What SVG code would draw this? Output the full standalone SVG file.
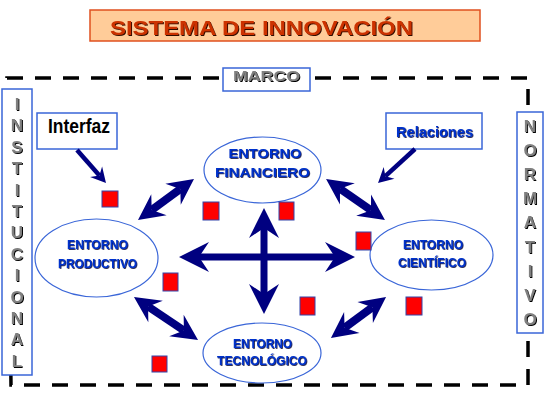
<svg xmlns="http://www.w3.org/2000/svg" width="554" height="405" viewBox="0 0 554 405">
<style>
.ent{font-family:"Liberation Sans",Arial,sans-serif;font-weight:bold;font-size:13px;fill:#0033CC;text-anchor:middle;filter:url(#shb)}
.gray{font-family:"Liberation Sans",Arial,sans-serif;font-weight:bold;font-size:17px;fill:#808080;text-anchor:middle;filter:url(#shk)}
.ell{fill:#fff;stroke:#3A66D8;stroke-width:1.2}
.box{fill:#fff;stroke:#3A66D8;stroke-width:1.5}
.sq{fill:#FF0000;stroke:#3344AA;stroke-width:1}
.big{fill:none;stroke:#000080;stroke-width:7;marker-start:url(#hb);marker-end:url(#hb)}
.mid{fill:none;stroke:#000080;stroke-width:8;marker-start:url(#hm);marker-end:url(#hm)}
.thin{fill:none;stroke:#000080;stroke-width:4.5;marker-end:url(#hs)}
</style>
<defs>
<filter id="shk" x="-20%" y="-20%" width="140%" height="140%"><feDropShadow dx="1" dy="1" stdDeviation="0" flood-color="#000"/></filter>
<filter id="shb" x="-20%" y="-20%" width="140%" height="140%"><feDropShadow dx="0.8" dy="0.8" stdDeviation="0" flood-color="#000033"/></filter>
<filter id="shr" x="-20%" y="-20%" width="140%" height="140%"><feDropShadow dx="1" dy="1" stdDeviation="0" flood-color="#330800"/></filter>
<marker id="hb" viewBox="-30 -15 30 30" markerWidth="30" markerHeight="30" refX="-20" refY="0" orient="auto-start-reverse" markerUnits="userSpaceOnUse" overflow="visible"><path d="M0,0 L-30,-15 L-20,0 L-30,15 Z" fill="#000080"/></marker>
<marker id="hm" viewBox="-26 -13 26 26" markerWidth="26" markerHeight="26" refX="-17" refY="0" orient="auto-start-reverse" markerUnits="userSpaceOnUse" overflow="visible"><path d="M0,0 L-26,-13 L-17,0 L-26,13 Z" fill="#000080"/></marker>
<marker id="hs" viewBox="-15 -8 15 16" markerWidth="15" markerHeight="16" refX="-10" refY="0" orient="auto" markerUnits="userSpaceOnUse" overflow="visible"><path d="M0,0 L-15,-8 L-10,0 L-15,8 Z" fill="#000080"/></marker>
</defs>
<rect width="554" height="405" fill="#fff"/>

<g id="title">
<rect x="90" y="10" width="390" height="31" fill="#FFCC99" stroke="#E0501F" stroke-width="1.5"/>
<text x="261.5" y="35" font-family="Liberation Sans,Arial,sans-serif" font-weight="bold" font-size="20" fill="#CC3300" text-anchor="middle" textLength="303" lengthAdjust="spacingAndGlyphs" filter="url(#shr)">SISTEMA DE INNOVACIÓN</text>
</g>

<g id="marco-border">
<path d="M7,78 H528 V385 H11 Z" fill="none" stroke="#000" stroke-width="3.5" stroke-dasharray="16 12"/>
</g>

<g id="marco">
<rect x="223" y="68" width="87" height="23" class="box"/>
<text x="266.5" y="80.5" class="gray" font-size="14" style="font-size:14px" textLength="67" lengthAdjust="spacingAndGlyphs">MARCO</text>
</g>

<g id="institucional">
<rect x="2" y="89" width="30" height="286" class="box"/>
<text class="gray"><tspan x="17" y="110">I</tspan><tspan x="17" y="131.4">N</tspan><tspan x="17" y="152.8">S</tspan><tspan x="17" y="174.2">T</tspan><tspan x="17" y="195.6">I</tspan><tspan x="17" y="217">T</tspan><tspan x="17" y="238.4">U</tspan><tspan x="17" y="259.8">C</tspan><tspan x="17" y="281.2">I</tspan><tspan x="17" y="302.6">O</tspan><tspan x="17" y="324">N</tspan><tspan x="17" y="345.4">A</tspan><tspan x="17" y="366.8">L</tspan></text>
</g>

<g id="normativo">
<rect x="517" y="112" width="26" height="221" class="box"/>
<text class="gray"><tspan x="530" y="132">N</tspan><tspan x="530" y="156.1">O</tspan><tspan x="530" y="180.2">R</tspan><tspan x="530" y="204.3">M</tspan><tspan x="530" y="228.4">A</tspan><tspan x="530" y="252.5">T</tspan><tspan x="530" y="276.6">I</tspan><tspan x="530" y="300.7">V</tspan><tspan x="530" y="324.8">O</tspan></text>
</g>

<g id="interfaz">
<rect x="37" y="113" width="80" height="36" class="box"/>
<text x="79" y="133" font-family="Liberation Sans,Arial,sans-serif" font-weight="bold" font-size="20" fill="#000" text-anchor="middle" textLength="62" lengthAdjust="spacingAndGlyphs">Interfaz</text>
</g>

<g id="relaciones">
<rect x="386" y="113" width="96" height="36" class="box"/>
<text x="434.5" y="137" font-family="Liberation Sans,Arial,sans-serif" font-weight="bold" font-size="14" fill="#0033CC" text-anchor="middle" textLength="77" lengthAdjust="spacingAndGlyphs" filter="url(#shb)">Relaciones</text>
</g>

<g id="financiero">
<ellipse cx="262.5" cy="170" rx="58.5" ry="33" class="ell"/>
<text x="265" y="158" class="ent" textLength="73" lengthAdjust="spacingAndGlyphs">ENTORNO</text>
<text x="262.5" y="177" class="ent" textLength="95" lengthAdjust="spacingAndGlyphs">FINANCIERO</text>
</g>

<g id="productivo">
<ellipse cx="96.5" cy="258" rx="61.5" ry="39" class="ell"/>
<text x="97.5" y="249" class="ent" textLength="61" lengthAdjust="spacingAndGlyphs">ENTORNO</text>
<text x="97.5" y="268" class="ent" textLength="79" lengthAdjust="spacingAndGlyphs">PRODUCTIVO</text>
</g>

<g id="cientifico">
<ellipse cx="431.5" cy="255" rx="61.5" ry="35" class="ell"/>
<text x="433" y="249" class="ent" textLength="60" lengthAdjust="spacingAndGlyphs">ENTORNO</text>
<text x="432" y="267" class="ent" textLength="68" lengthAdjust="spacingAndGlyphs">CIENTÍFICO</text>
</g>

<g id="tecnologico">
<ellipse cx="262" cy="353" rx="59" ry="30" class="ell"/>
<text x="262.5" y="348" class="ent" textLength="59" lengthAdjust="spacingAndGlyphs">ENTORNO</text>
<text x="262" y="365" class="ent" textLength="90" lengthAdjust="spacingAndGlyphs">TECNOLÓGICO</text>
</g>

<g id="squares">
<rect x="102" y="191" width="16" height="16" class="sq"/>
<rect x="203" y="202" width="16" height="18" class="sq"/>
<rect x="279" y="202" width="15" height="18" class="sq"/>
<rect x="356" y="232" width="15" height="18" class="sq"/>
<rect x="163" y="273" width="15" height="18" class="sq"/>
<rect x="300" y="297" width="15" height="18" class="sq"/>
<rect x="406" y="297" width="16" height="18" class="sq"/>
<rect x="152" y="356" width="15" height="16" class="sq"/>
</g>

<g id="connectors">
<line x1="199" y1="257" x2="335" y2="257" class="big"/>
<line x1="264" y1="228" x2="264" y2="294" class="big"/>
<line x1="151.7" y1="210" x2="180.3" y2="189" class="mid"/>
<line x1="340" y1="188.7" x2="371" y2="210.3" class="mid"/>
<line x1="148.1" y1="306.5" x2="183.9" y2="330.5" class="mid"/>
<line x1="372.4" y1="307.2" x2="344.6" y2="327.8" class="mid"/>
<line x1="77" y1="150" x2="99.4" y2="175.5" class="thin"/>
<line x1="415" y1="149" x2="385.4" y2="176.2" class="thin" stroke-width="3.5"/>
</g>
</svg>
